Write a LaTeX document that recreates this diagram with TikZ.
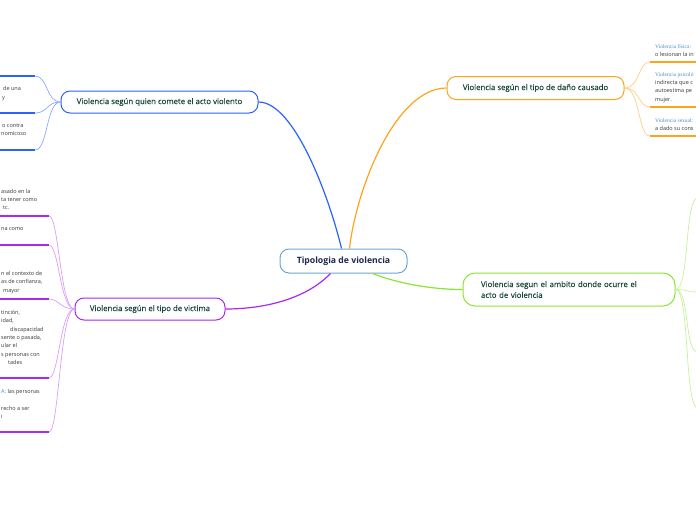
\documentclass[tikz,border=0pt]{standalone}
\usepackage{fontspec}
\setmainfont{Open Sans}
\newfontfamily\temafont[FakeBold=0.35]{Open Sans}
\newfontfamily\tiposerif{Liberation Serif}
\usetikzlibrary{positioning}
\definecolor{ramaazul}{RGB}{41,98,255}
\definecolor{ramanaranja}{RGB}{255,163,26}
\definecolor{ramamorado}{RGB}{170,40,240}
\definecolor{ramaverde}{RGB}{140,228,50}
\definecolor{centroazul}{RGB}{108,166,217}
\definecolor{centrotexto}{RGB}{30,42,78}
\definecolor{temaverde}{RGB}{26,72,56}
\definecolor{notagris}{RGB}{55,55,55}
\definecolor{etiquetaazul}{RGB}{70,140,200}

\begin{document}
\begin{tikzpicture}[x=1pt, y=-1pt,
        centro/.style={rectangle, rounded corners=9pt, draw=centroazul, line width=1pt, fill=white,
                       minimum width=127pt, minimum height=24pt, text=centrotexto,
                       font=\fontsize{8.7}{10}\selectfont\bfseries},
        tema/.style={rectangle, rounded corners=9pt, line width=1pt, fill=white, minimum height=22pt,
                     text=temaverde, font=\temafont\fontsize{7.8}{10.8}\selectfont},
        nota/.style={anchor=west, inner sep=0pt, align=left, text=notagris,
                     font=\fontsize{5.5}{8.4}\selectfont},
        rama/.style={line width=1.2pt},
        ramita/.style={line width=0.7pt},
        raya/.style={line width=1.8pt}
    ]
        \useasboundingbox (0,0) rectangle (696,520);
        \clip (0,0) rectangle (696,520);

        \node[centro] (tipologia) at (343.5,261) {Tipologia de violencia};
        \node[tema, draw=ramaazul, minimum width=197pt] (quien) at (159.5,102)
            {Violencia según quien comete el acto violento};
        \node[tema, draw=ramanaranja, minimum width=177pt, minimum height=23pt] (dano) at (535.5,88)
            {Violencia según el tipo de daño causado};
        \node[tema, draw=ramamorado, minimum width=150pt] (victima) at (150,309)
            {Violencia según el tipo de victima};
        \node[tema, draw=ramaverde, text width=176pt, inner xsep=18pt, minimum height=33pt,
              align=left, rounded corners=12pt] (ambito) at (569,289.5)
            {Violencia segun el ambito donde ocurre el\\acto de violencia};

        \draw[rama, ramaazul] ([xshift=-2pt]tipologia.north) .. controls (330,200) and (295,102) .. (quien.east);
        \draw[rama, ramanaranja] ([xshift=6pt]tipologia.north) .. controls (356,190) and (395,88) .. (dano.west);
        \draw[rama, ramamorado] ([xshift=-13pt]tipologia.south) .. controls (305,300) and (262,309) .. (victima.east);
        \draw[rama, ramaverde] ([xshift=29pt]tipologia.south) .. controls (405,286) and (440,289.5) .. (ambito.west);

        \foreach \y [count=\i] in {76,113,150} {
            \coordinate (q\i) at (35,\y);
            \draw[ramita, ramaazul!55] (quien.west) .. controls (46,102) and (48,\y) .. (q\i);
            \draw[raya, ramaazul] (q\i) -- ++(-40,0);
        }
        \node[nota] (q1t) at (2,93.5) {\hspace*{1pt}de una\\y};
        \node[nota] (q2t) at (1,130) {\hspace*{1pt}o contra\\nomicoso};

        \foreach \y [count=\i] in {216,245,299,378,432} {
            \coordinate (v\i) at (49,\y);
            \draw[ramita, ramamorado!45] (victima.west) .. controls (60,309) and (59,\y) .. (v\i);
            \draw[raya, ramamorado] (v\i) -- ++(-55,0);
        }
        \node[nota] (v0t) at (1,199.5) {asado en la\\ta tener como\\\hspace*{2pt}tc.};
        \node[nota] (v1t) at (1,229) {na como};
        \node[nota] (v2t) at (1,282.5) {n el contexto de\\as de confianza,\\\hspace*{2pt}mayor};
        \node[nota] (v3t) at (1,337.5)
            {tinción,\\idad,\\\hspace*{9pt}discapacidad\\sente o pasada,\\ular el\\s personas con\\\hspace*{7pt}tades};
        \node[nota] (v4t) at (1,404)
            {\textcolor{etiquetaazul}{A:} las personas\\[8.4pt]recho a ser\\i};

        \foreach \y [count=\i] in {62,107,136} {
            \coordinate (d\i) at (650,\y);
            \draw[ramita, ramanaranja!55] (dano.east) .. controls (640,88) and (638,\y) .. (d\i);
            \draw[raya, ramanaranja] (d\i) -- ++(60,0);
        }
        \node[nota] (d1t) at (655,50.5)
            {{\tiposerif\color{etiquetaazul}Violencia física:}\\o lesionan la in};
        \node[nota] (d2t) at (655,87.5)
            {{\tiposerif\color{etiquetaazul}Violencia psicoló}\\indirecta que c\\autoestima pe\\mujer.};
        \node[nota] (d3t) at (655,124.5)
            {{\tiposerif\color{etiquetaazul}Violencia sexual:}\\a dado su cons};

        \foreach \y [count=\i] in {198,292,352,408} {
            \coordinate (g\i) at (698,\y);
            \draw[ramita, ramaverde!50] (ambito.east) .. controls (690,289.5) and (684,\y) .. (g\i);
        }
    \end{tikzpicture}
\end{document}
